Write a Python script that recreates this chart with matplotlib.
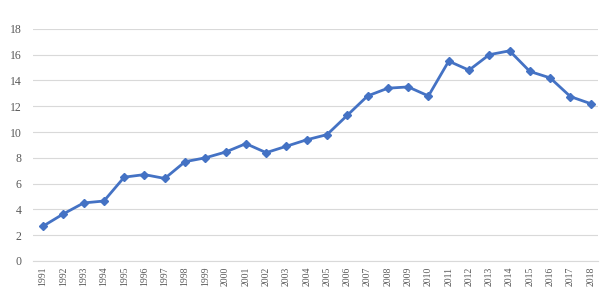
import numpy as np
import matplotlib.pyplot as plt

years = [str(y) for y in range(1991, 2019)]
values = [2.7, 3.65, 4.5, 4.65, 6.5, 6.7, 6.4, 7.7, 8.0, 8.45, 9.1, 8.4, 8.9, 9.4,
          9.8, 11.3, 12.8, 13.4, 13.5, 12.8, 15.5, 14.8, 16.0, 16.3, 14.7, 14.2,
          12.75, 12.2]

plt.rcParams['font.family'] = ['Liberation Serif', 'DejaVu Serif']

fig = plt.figure(figsize=(6.1, 3.01), dpi=100)
ax = fig.add_axes([0.054, 0.133, 0.926, 0.771])

x = np.arange(len(years))
ax.plot(x, values, color='#4472C4', linewidth=2, marker='D', markersize=4.5)

ax.set_xlim(-0.5, 27.35)
ax.set_ylim(0, 18)
ax.set_yticks(range(0, 19, 2))
ax.set_xticks(x)
ax.set_xticklabels(years, rotation=90, fontsize=7, color='#595959')
ax.tick_params(axis='y', labelsize=8.5, colors='#595959', length=0, pad=8)
ax.tick_params(axis='x', length=0, pad=4)

ax.grid(axis='y', color='#d9d9d9', linewidth=0.8)
ax.set_axisbelow(True)
for s in ['top', 'right', 'left']:
    ax.spines[s].set_visible(False)
ax.spines['bottom'].set_color('#d9d9d9')

fig.savefig('out.png', dpi=100)
